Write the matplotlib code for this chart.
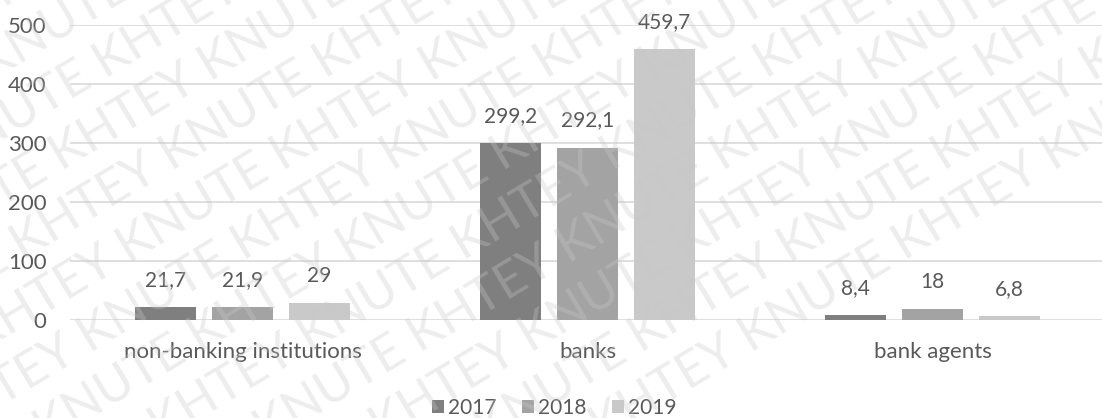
import matplotlib.pyplot as plt
import numpy as np

# Дані: кількість установ за роками
categories = ['non-banking institutions', 'banks', 'bank agents']
years = ['2017', '2018', '2019']
v2017 = [21.7, 299.2, 8.4]
v2018 = [21.9, 292.1, 18]
v2019 = [29, 459.7, 6.8]

colors = ['#7f7f7f', '#a3a3a3', '#c9c9c9']
txt = '#595959'

plt.rcParams['font.family'] = ['Lato', 'DejaVu Sans']

fig = plt.figure(figsize=(11.02, 4.18), dpi=100)
ax = fig.add_axes([0.0635, 0.2344, 0.9392, 0.7058])

x = np.arange(len(categories))
w = 0.177
step = 0.223

for i, (vals, yr) in enumerate(zip([v2017, v2018, v2019], years)):
    pos = x + (i - 1) * step
    bars = ax.bar(pos, vals, w, color=colors[i], label=yr, zorder=2)
    for b, v in zip(bars, vals):
        lab = ('%g' % v).replace('.', ',')
        ax.annotate(lab, (b.get_x() + b.get_width() / 2, v),
                    xytext=(0, 19.5), textcoords='offset points',
                    ha='center', va='center', fontsize=15, color=txt)

ax.set_xlim(-0.5, 2.5)
ax.set_ylim(0, 500)
ax.set_yticks(range(0, 501, 100))
ax.set_xticks(x)
ax.set_xticklabels(categories)
ax.tick_params(axis='both', length=0, labelsize=16, colors=txt)
ax.tick_params(axis='x', pad=16)
ax.tick_params(axis='y', pad=17)
ax.grid(axis='y', color='#d9d9d9', linewidth=1.2, zorder=0)
for s in ax.spines.values():
    s.set_visible(False)

fig.legend(loc='center', bbox_to_anchor=(0.503, 0.025), ncol=3, frameon=False,
           fontsize=15, labelcolor=txt, handlelength=0.6, handleheight=0.6,
           handletextpad=0.2, columnspacing=1.2)

# водяний знак поверх усього, обрізаний рамкою рисунка
wm = fig.add_axes([0, 0, 1, 1], zorder=10)
wm.set_axis_off()
wm.set_xlim(0, 1)
wm.set_ylim(0, 1)
for k in range(-10, 12):
    row = ('KNUTE KHTEY ' if k % 2 else 'KHTEY KNUTE ') * 6
    wm.text(-0.7 + k * 0.1, -0.25, row, rotation=31, rotation_mode='anchor',
            fontsize=36, color='#c8c8c8', alpha=0.33, ha='left', va='center',
            clip_on=True)

fig.savefig('out.png', dpi=100)
